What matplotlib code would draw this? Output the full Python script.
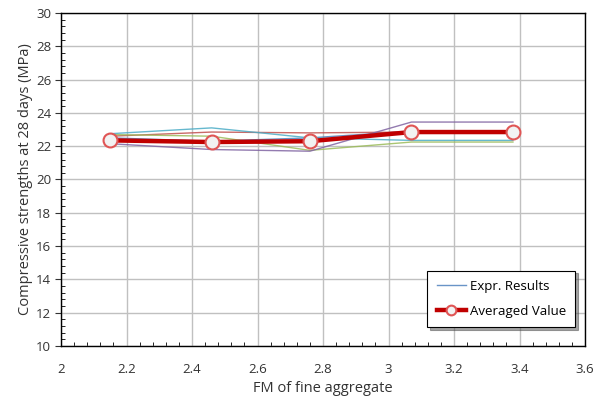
import matplotlib.pyplot as plt
from matplotlib.ticker import MultipleLocator

# Fineness modulus of fine aggregate
fm = [2.15, 2.46, 2.76, 3.07, 3.38]

# Individual experimental results (MPa)
series_blue = [22.5, 22.3, 22.5, 22.9, 22.9]
series_red = [22.6, 22.85, 22.8, 22.85, 22.85]
series_green = [22.7, 22.6, 21.75, 22.25, 22.25]
series_purple = [22.15, 21.8, 21.7, 23.45, 23.45]
series_teal = [22.75, 23.1, 22.5, 22.35, 22.35]

# Averaged value
averaged = [22.35, 22.25, 22.3, 22.85, 22.85]

expr_series = [series_blue, series_red, series_green, series_purple, series_teal]
expr_colors = ["#4F81BD", "#C0504D", "#9BBB59", "#8064A2", "#4BACC6"]

plt.rcParams['font.family'] = ['Open Sans', 'DejaVu Sans']

fig = plt.figure(figsize=(5.95, 4.03), dpi=100)
ax = fig.add_axes([61 / 595, 1 - 346 / 403, (585 - 61) / 595, (346 - 13) / 403])

for i, (vals, col) in enumerate(zip(expr_series, expr_colors)):
    ax.plot(fm, vals, color=col, lw=1.0, alpha=0.85,
            label="Expr. Results" if i == 0 else None)

ax.plot(fm, averaged, color="#C00000", lw=3.2, marker="o", markersize=10,
        markerfacecolor="#F2F2F2", markeredgecolor="#E05555", markeredgewidth=1.5,
        label="Averaged Value", zorder=5)

ax.set_xlim(2, 3.6)
ax.set_ylim(10, 30)
ax.xaxis.set_minor_locator(MultipleLocator(0.04))
ax.yaxis.set_major_locator(MultipleLocator(2))
ax.yaxis.set_minor_locator(MultipleLocator(0.4))
ax.set_xticks([2, 2.2, 2.4, 2.6, 2.8, 3, 3.2, 3.4, 3.6])
ax.set_xticklabels(["2", "2.2", "2.4", "2.6", "2.8", "3", "3.2", "3.4", "3.6"])

ax.tick_params(axis='both', which='major', labelsize=9.5, colors='#333333')
ax.tick_params(axis='both', which='minor', direction='in', length=3)
ax.tick_params(axis='x', which='major', length=0, pad=12)
ax.tick_params(axis='y', which='major', direction='out', length=4, pad=3)

ax.grid(True, which='major', color='#C0C0C0', lw=1.0)
ax.set_axisbelow(True)
for s in ax.spines.values():
    s.set_color('black')
    s.set_linewidth(1.0)

ax.set_xlabel("FM of fine aggregate", fontsize=10.5, color='#333333', labelpad=4)
ax.set_ylabel("Compressive strengths at 28 days (MPa)", fontsize=10.5, color='#333333',
              labelpad=2)

leg = ax.legend(loc='lower right', bbox_to_anchor=(0.981, 0.057), borderaxespad=0,
                fontsize=9.5, frameon=True, fancybox=False, shadow=True, borderpad=0.7,
                labelspacing=0.9, handlelength=2.2, handletextpad=0.3, markerscale=0.7)
leg.get_frame().set_edgecolor('black')
leg.get_frame().set_linewidth(0.8)

fig.savefig("out.png", dpi=100)
